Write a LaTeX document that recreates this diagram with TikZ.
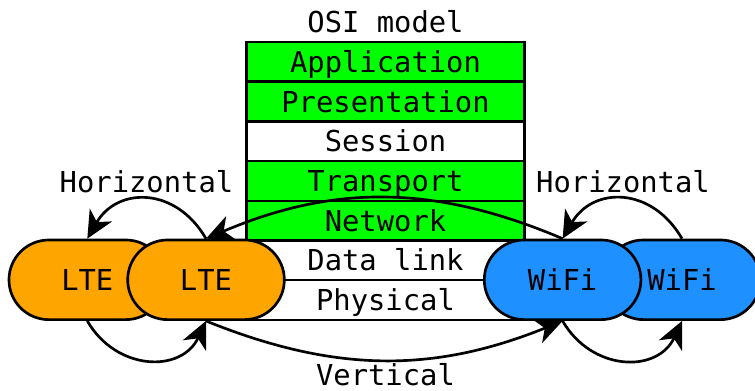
\documentclass[tikz,border=0pt]{standalone}
\usepackage{fontspec}
\setmonofont{DejaVu Sans Mono}
\usetikzlibrary{shapes.misc,arrows.meta}
\definecolor{layergreen}{HTML}{00FF00}
\definecolor{lteorange}{HTML}{FFA500}
\definecolor{wifiblue}{HTML}{1E90FF}
\begin{document}
\begin{tikzpicture}[x=0.025cm,y=-0.025cm,
  every node/.style={font=\ttfamily\fontsize{20.5}{24}\selectfont, text height=15pt, text depth=0pt, inner sep=0pt},
  layer/.style={draw, line width=1.8pt, minimum width=6.94cm, minimum height=0.9925cm},
  green layer/.style={layer, fill=layergreen},
  white layer/.style={layer, fill=white},
  radio/.style={rounded rectangle, draw, line width=1.9pt, minimum width=3.915cm, minimum height=1.99cm},
  conn/.style={line width=1.9pt, -{Stealth[length=0.68cm,width=0.64cm,inset=0.2cm]}}
]
\useasboundingbox (0,0) rectangle (755,390);
\clip (0,0) rectangle (755,390);
% OSI stack
\node (osi) at (385.5,22) {OSI model};
\node[green layer] (app)   at (385.5,61.85)  {Application};
\node[green layer] (pres)  at (385.5,101.55) {Presentation};
\node[white layer] (sess)  at (385.5,141.25) {Session};
\node[green layer] (trans) at (385.5,180.95) {Transport};
\node[green layer] (net)   at (385.5,220.65) {Network};
\node[white layer] (dl)    at (385.5,260.35) {Data link};
\node[white layer] (phy)   at (385.5,300.05) {Physical};
% radio nodes
\node[radio, fill=lteorange] (lte1) at (87.3,279.8) {LTE};
\node[radio, fill=lteorange] (lte2) at (206,279.8) {LTE};
\node[radio, fill=wifiblue] (wifi2) at (682,279.8) {WiFi};
\node[radio, fill=wifiblue] (wifi1) at (562.6,279.8) {WiFi};
% labels
\node (hl) at (146.5,182) {Horizontal};
\node (hr) at (623,182) {Horizontal};
\node (vert) at (385.5,375) {Vertical};
% connectors
\draw[conn] (lte2.north) to[out=120,in=60,looseness=1.3] (lte1.north);
\draw[conn] (lte1.south) to[out=-60,in=-115,looseness=1.25] (lte2.south);
\draw[conn] (wifi2.north) to[out=120,in=60,looseness=1.3] (wifi1.north);
\draw[conn] (wifi1.south) to[out=-60,in=-115,looseness=1.25] (wifi2.south);
\draw[conn] (wifi1.north) to[out=157,in=23] (lte2.north);
\draw[conn] (lte2.south) to[out=-22,in=-158] (wifi1.south);
\end{tikzpicture}
\end{document}
